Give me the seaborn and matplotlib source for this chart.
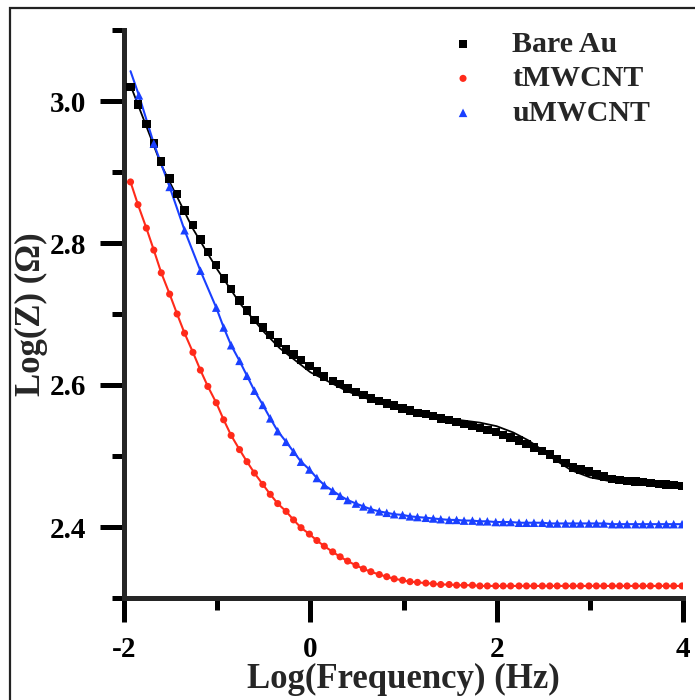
import numpy as np
import pandas as pd
import matplotlib
matplotlib.use("Agg")
import matplotlib.pyplot as plt
from matplotlib.patches import Rectangle
from matplotlib.ticker import MultipleLocator
import seaborn as sns

# ---------------- data ----------------
log_freq = [-1.93, -1.85, -1.76, -1.68, -1.60, -1.51, -1.43, -1.35, -1.26, -1.18,
            -1.10, -1.01, -0.93, -0.85, -0.76, -0.68, -0.60, -0.51, -0.43, -0.35,
            -0.26, -0.18, -0.10, -0.01, 0.07, 0.15, 0.24, 0.32, 0.40, 0.49,
            0.57, 0.65, 0.74, 0.82, 0.90, 0.99, 1.07, 1.15, 1.24, 1.32,
            1.40, 1.49, 1.57, 1.65, 1.74, 1.82, 1.90, 1.99, 2.07, 2.15,
            2.24, 2.32, 2.40, 2.49, 2.57, 2.65, 2.74, 2.82, 2.90, 2.99,
            3.07, 3.15, 3.24, 3.32, 3.40, 3.49, 3.57, 3.65, 3.74, 3.82,
            3.90, 3.99]

bare_au = [3.020, 2.995, 2.968, 2.940, 2.915, 2.891, 2.869, 2.846, 2.825, 2.805,
           2.787, 2.769, 2.750, 2.735, 2.719, 2.705, 2.692, 2.681, 2.670, 2.660,
           2.650, 2.643, 2.635, 2.627, 2.619, 2.612, 2.606, 2.601, 2.595, 2.590,
           2.586, 2.581, 2.577, 2.574, 2.571, 2.567, 2.564, 2.561, 2.559, 2.556,
           2.553, 2.551, 2.548, 2.545, 2.542, 2.539, 2.537, 2.534, 2.530, 2.526,
           2.522, 2.517, 2.512, 2.507, 2.502, 2.496, 2.490, 2.484, 2.481, 2.478,
           2.474, 2.471, 2.468, 2.466, 2.465, 2.464, 2.463, 2.462, 2.461, 2.460,
           2.459, 2.458]

bare_au_fit_x = [-1.93, -1.60, -1.26, -1.00, -0.75, -0.50, -0.33, 0.00, 0.40, 0.75,
                 1.10, 1.46, 1.82, 2.00, 2.18, 2.34, 2.45, 2.60, 2.80, 3.00,
                 3.20, 3.50, 3.99]
bare_au_fit_y = [3.022, 2.910, 2.820, 2.763, 2.714, 2.675, 2.652, 2.618, 2.591, 2.574,
                 2.561, 2.553, 2.547, 2.542, 2.533, 2.522, 2.512, 2.497, 2.480, 2.470,
                 2.465, 2.462, 2.458]

t_mwcnt = [2.886, 2.854, 2.821, 2.790, 2.758, 2.728, 2.700, 2.673, 2.646, 2.621,
           2.598, 2.575, 2.551, 2.529, 2.509, 2.492, 2.476, 2.460, 2.446, 2.433,
           2.422, 2.410, 2.399, 2.390, 2.381, 2.373, 2.365, 2.358, 2.352, 2.346,
           2.341, 2.337, 2.333, 2.330, 2.327, 2.325, 2.323, 2.322, 2.321, 2.320,
           2.319, 2.319, 2.318, 2.318, 2.318, 2.317, 2.317, 2.317, 2.317, 2.317,
           2.317, 2.317, 2.317, 2.317, 2.317, 2.317, 2.317, 2.317, 2.317, 2.317,
           2.317, 2.317, 2.317, 2.317, 2.317, 2.317, 2.317, 2.317, 2.317, 2.317,
           2.317, 2.317]

u_mwcnt_x = [-1.84, -1.68, -1.51, -1.35, -1.18, -1.01, -0.93, -0.85, -0.76, -0.68,
             -0.60, -0.51, -0.43, -0.35, -0.26, -0.18, -0.10, -0.01, 0.07, 0.15,
             0.24, 0.32, 0.40, 0.49, 0.57, 0.65, 0.74, 0.82, 0.90, 0.99,
             1.07, 1.15, 1.24, 1.32, 1.40, 1.49, 1.57, 1.65, 1.74, 1.82,
             1.90, 1.99, 2.07, 2.15, 2.24, 2.32, 2.40, 2.49, 2.57, 2.65,
             2.74, 2.82, 2.90, 2.99, 3.07, 3.15, 3.24, 3.32, 3.40, 3.49,
             3.57, 3.65, 3.74, 3.82, 3.90, 3.99]
u_mwcnt = [3.008, 2.940, 2.879, 2.818, 2.761, 2.709, 2.681, 2.656, 2.634, 2.613,
           2.592, 2.572, 2.553, 2.535, 2.520, 2.506, 2.492, 2.481, 2.469, 2.459,
           2.451, 2.444, 2.438, 2.433, 2.429, 2.425, 2.422, 2.420, 2.418, 2.417,
           2.415, 2.414, 2.413, 2.412, 2.411, 2.410, 2.410, 2.409, 2.409, 2.408,
           2.408, 2.407, 2.407, 2.407, 2.406, 2.406, 2.406, 2.406, 2.405, 2.405,
           2.405, 2.405, 2.405, 2.405, 2.405, 2.405, 2.404, 2.404, 2.404, 2.404,
           2.404, 2.404, 2.404, 2.404, 2.404, 2.404]
u_mwcnt_fit_start = [(-1.93, 3.042)]

series_names = ["Bare Au", "tMWCNT", "uMWCNT"]
x_ticks = [-2, 0, 2, 4]
y_ticks = [2.4, 2.6, 2.8, 3.0]

# ---------------- style ----------------
sns.set_theme(style="ticks")
plt.rcParams["font.family"] = ["Liberation Serif", "DejaVu Serif"]
plt.rcParams["font.weight"] = "bold"
plt.rcParams["axes.labelweight"] = "bold"

BLACK = "#000000"
RED = "#ff2a1a"
BLUE = "#1a40ff"

fig = plt.figure(figsize=(6.95, 7.00), dpi=100)
ax = fig.add_axes([124 / 695, 1 - 598 / 700, (683 - 124) / 695, (598 - 30) / 700])

# figure border (only the top and left edges are visible in the reference)
fig.patches.append(Rectangle((10 / 695, -0.2), 1.2, 0.2 + (700 - 8) / 700,
                             transform=fig.transFigure, fill=False,
                             edgecolor="#222222", linewidth=1.6, clip_on=False))

df_bare = pd.DataFrame({"x": log_freq, "y": bare_au})
df_bare_fit = pd.DataFrame({"x": bare_au_fit_x, "y": bare_au_fit_y})
df_t = pd.DataFrame({"x": log_freq, "y": t_mwcnt})
df_u = pd.DataFrame({"x": u_mwcnt_x, "y": u_mwcnt})
df_u_fit = pd.DataFrame({"x": [p[0] for p in u_mwcnt_fit_start] + u_mwcnt_x,
                         "y": [p[1] for p in u_mwcnt_fit_start] + u_mwcnt})

# fit lines
sns.lineplot(data=df_bare_fit, x="x", y="y", ax=ax, color=BLACK, lw=1.3,
             sort=False, legend=False, zorder=2)
sns.lineplot(data=df_t, x="x", y="y", ax=ax, color=RED, lw=1.5,
             sort=False, legend=False, zorder=2)
sns.lineplot(data=df_u_fit, x="x", y="y", ax=ax, color=BLUE, lw=1.5,
             sort=False, legend=False, zorder=2)

# data markers
sns.scatterplot(data=df_bare, x="x", y="y", ax=ax, color=BLACK, marker="s",
                s=36, edgecolor="none", label=series_names[0], zorder=3)
sns.scatterplot(data=df_t, x="x", y="y", ax=ax, color=RED, marker="o",
                s=26, edgecolor="none", label=series_names[1], zorder=3)
sns.scatterplot(data=df_u, x="x", y="y", ax=ax, color=BLUE, marker="^",
                s=38, edgecolor="none", label=series_names[2], zorder=3)

ax.set_xlim(-2, 4)
ax.set_ylim(2.3, 3.1)
ax.set_xticks(x_ticks)
ax.set_yticks(y_ticks)
ax.set_xticklabels([str(v) for v in x_ticks])
ax.set_yticklabels([f"{v:.1f}" for v in y_ticks])
ax.xaxis.set_minor_locator(MultipleLocator(1))
ax.yaxis.set_minor_locator(MultipleLocator(0.1))

sns.despine(ax=ax)
for s in ("left", "bottom"):
    ax.spines[s].set_linewidth(3.6)
    ax.spines[s].set_capstyle("projecting")

ax.tick_params(axis="both", which="major", direction="out", length=17.5, width=3.6,
               labelsize=21, pad=10, color=BLACK, labelcolor=BLACK)
ax.tick_params(axis="both", which="minor", direction="out", length=8.5, width=3.6,
               color=BLACK)
for lab in ax.get_xticklabels() + ax.get_yticklabels():
    lab.set_fontweight("bold")

ax.set_xlabel("Log(Frequency) (Hz)", fontsize=25, fontweight="bold", labelpad=0)
ax.set_ylabel("Log(Z) (Ω)", fontsize=25, fontweight="bold", labelpad=1)

leg = ax.legend(loc="upper left", bbox_to_anchor=(0.505, 1.046), frameon=False,
                prop={"family": "Liberation Serif", "weight": "bold", "size": 21.5},
                handlelength=2.0, handletextpad=0.65, labelspacing=0.25,
                borderpad=0.4, markerscale=1.0)

fig.savefig("out.png", dpi=100)
